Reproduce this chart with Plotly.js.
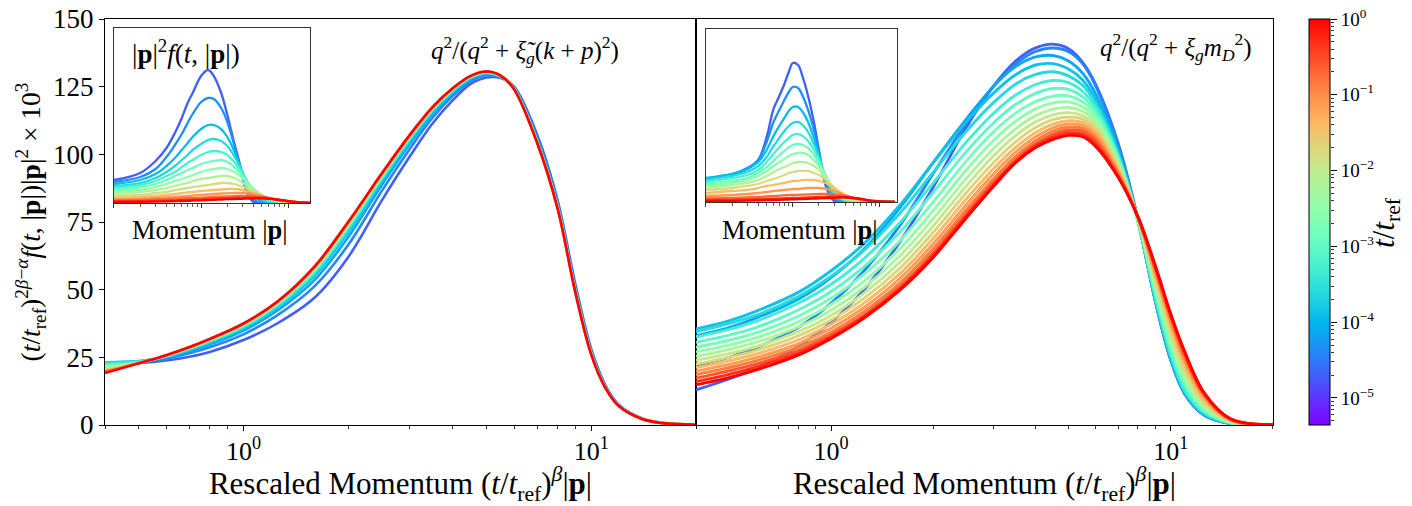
<!DOCTYPE html>
<html>
<head>
<meta charset="utf-8">
<script src="https://cdn.plot.ly/plotly-3.0.1.min.js"></script>
<style>html,body{margin:0;padding:0;background:#fff;}</style>
</head>
<body>
<div id="chart" style="width:1412px;height:506px;"></div>
<script>
// ---------------- DATA ----------------
// colour range of the colourbar (t / t_ref)
const T_MIN = 4.4e-6;
const T_MAX = 1.0;
const cbTickVals = [1e-5, 1e-4, 1e-3, 1e-2, 1e-1, 1];
const cbTickText = ['10<sup>−5</sup>','10<sup>−4</sup>','10<sup>−3</sup>','10<sup>−2</sup>','10<sup>−1</sup>','10<sup>0</sup>'];

// main-panel x ticks
const mainTickVals = [1, 10];
const mainTickText = ['10<sup>0</sup>', '10<sup>1</sup>'];
const yTickVals = [0, 25, 50, 75, 100, 125, 150];

// ---- left main panel: q^2/(q^2 + xi_g (k+p)^2) ----
const xLeft = [0.4, 0.5, 0.6, 0.7, 0.8, 1.0, 1.25, 1.6, 2.0, 2.5, 3.0, 3.5, 4.0, 4.5, 5.0, 5.5, 6.0, 7.0, 8.0, 9.0, 10, 11, 12, 14, 16, 20];
const tLeft = [2e-5, 4e-5, 7e-5, 1.5e-4, 4e-4, 1.5e-3, 6e-3, 3e-2, 0.15, 1.0];
const yL0 = [22.3, 22.8, 23.8, 25.2, 27, 31.4, 37.5, 47, 62, 83, 99, 111.5, 120, 126, 128.4, 128.2, 125, 107, 83, 52, 28, 14.5, 7.5, 2.4, 0.8, 0.1];
const yL1 = [22.8, 23.3, 24.5, 26.5, 28.7, 33.5, 40.5, 51.2, 66.5, 86.5, 101.8, 113.6, 121.6, 127, 129.2, 128.5, 124.6, 106, 82, 51, 27.3, 14.1, 7.3, 2.3, 0.75, 0.1];
const yL2 = [23.0, 23.5, 24.9, 27.3, 29.7, 34.9, 42.2, 53.5, 69.4, 88.7, 103.6, 114.9, 122.6, 127.7, 129.7, 128.7, 124.4, 105.3, 81.3, 50.3, 26.9, 13.9, 7.2, 2.3, 0.74, 0.1];
const yL3 = [23.2, 23.6, 25.2, 27.7, 30.4, 35.7, 43.2, 55.0, 71.1, 90, 104.6, 115.7, 123.2, 128.1, 129.9, 128.8, 124.3, 104.9, 80.9, 49.9, 26.6, 13.8, 7.15, 2.26, 0.73, 0.1];
const yL4 = [22.8, 23.4, 25.4, 28.1, 30.8, 36.3, 44.0, 56.2, 72.4, 91, 105.4, 116.3, 123.6, 128.4, 130.2, 128.8, 124.2, 104.6, 80.6, 49.6, 26.4, 13.7, 7.1, 2.24, 0.72, 0.1];
const yL5 = [22.0, 23.1, 25.5, 28.3, 31.2, 36.7, 44.5, 57.0, 73.3, 91.7, 106, 116.7, 123.9, 128.6, 130.3, 128.9, 124.1, 104.4, 80.4, 49.4, 26.3, 13.6, 7.07, 2.23, 0.71, 0.1];
const yL6 = [21.2, 22.9, 25.6, 28.5, 31.4, 37.0, 44.9, 57.6, 74.0, 92.2, 106.4, 117, 124.1, 128.8, 130.4, 128.9, 124.1, 104.2, 80.2, 49.2, 26.2, 13.6, 7.04, 2.22, 0.71, 0.1];
const yL7 = [20.5, 22.8, 25.7, 28.6, 31.6, 37.2, 45.2, 58.0, 74.4, 92.5, 106.6, 117.2, 124.3, 128.9, 130.5, 129, 124, 104.1, 80.1, 49.1, 26.1, 13.55, 7.02, 2.21, 0.7, 0.1];
const yL8 = [19.8, 22.8, 25.8, 28.7, 31.7, 37.4, 45.4, 58.3, 74.8, 92.8, 106.8, 117.4, 124.4, 128.9, 130.6, 129, 124, 104, 80, 49, 26, 13.5, 7, 2.2, 0.7, 0.1];
const yL9 = [19.2, 22.8, 25.8, 28.8, 31.8, 37.5, 45.5, 58.5, 75, 93, 107, 117.5, 124.5, 129, 130.6, 129, 124, 104, 80, 49, 26, 13.5, 7, 2.2, 0.7, 0.1];
const leftCurves = [yL0, yL1, yL2, yL3, yL4, yL5, yL6, yL7, yL8, yL9];

// ---- right main panel: q^2/(q^2 + xi_g m_D^2) ----
const xRight = [0.4, 0.5, 0.6, 0.8, 1.0, 1.25, 1.6, 2.0, 2.5, 3.0, 3.5, 4.0, 4.5, 5.0, 5.5, 6.0, 7.0, 8.0, 9.0, 10, 11, 12.5, 15, 20];
const tRight = [2.0e-5, 3.8e-5, 7.1e-5, 1.3e-4, 2.5e-4, 4.7e-4, 8.9e-4, 1.7e-3, 3.2e-3, 5.9e-3, 1.1e-2, 2.1e-2, 4.0e-2, 7.5e-2, 0.14, 0.27, 0.51, 1.0];
const yR0  = [13, 17, 21, 29, 38, 50, 68, 88, 110, 125, 134.5, 139.3, 140.7, 139, 134, 126, 104, 76, 46, 24, 11.5, 3.8, 0.5, 0];
const yR1  = [22, 25, 28.5, 36, 45, 57, 74, 93, 111.5, 125, 133.5, 138, 139.3, 138, 133.5, 125.5, 103.5, 76, 46, 24, 11.5, 3.8, 0.5, 0];
const yR2  = [33, 36, 39.5, 46.5, 54.5, 65, 80.5, 97, 113, 125, 132.5, 136, 136.5, 134.5, 130, 122.5, 102, 75.5, 46, 24.2, 11.7, 3.9, 0.55, 0];
const yR3  = [35.5, 38.5, 42, 49, 57, 67, 81.5, 97, 112, 122.5, 129.5, 133, 133.5, 131.5, 127.5, 120.5, 101, 75.5, 46.5, 24.8, 12, 4.1, 0.6, 0];
const yR4  = [34.5, 37.5, 40.5, 47.5, 55, 64.5, 78.5, 93.5, 108.5, 119, 126, 129.5, 130.5, 129, 125.5, 119, 100, 75.5, 47, 25.5, 12.5, 4.4, 0.65, 0];
const yR5  = [32.5, 35.3, 38.3, 45, 52, 61.5, 75, 89.5, 104.5, 115, 122, 125.8, 127.3, 126.5, 123.3, 117.5, 99.3, 75.6, 47.8, 26.5, 13.3, 4.8, 0.75, 0];
const yR6  = [30.5, 33.2, 36, 42.5, 49.3, 58.5, 71.5, 86, 101, 111.5, 118.5, 122.5, 124.3, 124, 121.3, 116, 98.6, 75.7, 48.8, 27.8, 14.3, 5.3, 0.85, 0];
const yR7  = [28.7, 31.3, 34, 40.2, 46.8, 55.7, 68.3, 82.5, 97.5, 108.2, 115.3, 119.5, 121.5, 121.6, 119.4, 114.6, 98, 75.8, 49.8, 29.2, 15.5, 5.9, 0.95, 0];
const yR8  = [27, 29.5, 32.2, 38.1, 44.5, 53.1, 65.4, 79.3, 94.2, 105, 112.3, 116.8, 119, 119.4, 117.6, 113.3, 97.4, 76, 50.8, 30.6, 16.7, 6.5, 1.05, 0];
const yR9  = [25.4, 27.9, 30.5, 36.2, 42.4, 50.8, 62.7, 76.3, 91.1, 102, 109.5, 114.3, 116.7, 117.3, 115.9, 112, 96.7, 76.2, 52, 32, 18, 7.2, 1.2, 0];
const yR10 = [23.9, 26.4, 28.9, 34.5, 40.5, 48.7, 60.3, 73.6, 88.3, 99.3, 107, 112, 114.6, 115.4, 114.3, 110.8, 96, 76.4, 53.1, 33.5, 19.3, 7.9, 1.35, 0];
const yR11 = [22.5, 25, 27.5, 32.9, 38.8, 46.8, 58.1, 71.2, 85.8, 96.8, 104.7, 109.9, 112.8, 113.8, 113, 109.6, 95.3, 76.5, 54.2, 35, 20.6, 8.7, 1.5, 0];
const yR12 = [21.2, 23.7, 26.2, 31.4, 37.2, 45, 56.1, 69, 83.5, 94.6, 102.7, 108.1, 111.2, 112.4, 111.8, 108.5, 94.5, 76.6, 55.3, 36.5, 22, 9.5, 1.65, 0.05];
const yR13 = [19.9, 22.4, 24.9, 30, 35.7, 43.4, 54.3, 67, 81.4, 92.6, 100.9, 106.5, 109.8, 111.2, 110.7, 107.3, 93.6, 76.7, 56.3, 37.8, 23.4, 10.3, 1.8, 0.05];
const yR14 = [18.6, 21.2, 23.7, 28.7, 34.3, 41.9, 52.6, 65.2, 79.5, 90.8, 99.3, 105, 108.5, 110, 109.6, 106.1, 92.8, 76.8, 57.2, 39, 24.7, 11, 1.95, 0.05];
const yR15 = [17.3, 20, 22.5, 27.5, 33.2, 40.6, 51.2, 63.6, 78, 89.4, 98, 103.8, 107.3, 108.9, 108.5, 105, 92.2, 76.9, 58, 40, 25.9, 11.6, 2.1, 0.05];
const yR16 = [16, 18.7, 21.4, 26.6, 32.5, 40, 50.5, 62.7, 77.2, 88.6, 97.4, 103.1, 106.3, 107.9, 107.4, 103.9, 91.8, 77, 58.6, 40.6, 26.5, 11.9, 2.2, 0.1];
const yR17 = [14.8, 17.5, 20.3, 25.8, 32, 39.5, 50, 62, 76.5, 88, 97, 102.5, 105.5, 107, 106.5, 103, 91.5, 77, 59, 41, 27, 12.2, 2.3, 0.1];
const rightCurves = [yR0, yR1, yR2, yR3, yR4, yR5, yR6, yR7, yR8, yR9, yR10, yR11, yR12, yR13, yR14, yR15, yR16, yR17];

// ---- insets: |p|^2 f(t,|p|) vs momentum |p| (arbitrary units) ----
const tInset = [2.0e-5, 4.6e-5, 1.1e-4, 2.4e-4, 5.6e-4, 1.3e-3, 2.9e-3, 6.8e-3, 1.6e-2, 3.6e-2, 8.3e-2, 0.19, 0.44, 1.0];
const inTickMajor = [0.1, 1, 10];
const inTickMinor = [0.2,0.3,0.4,0.5,0.6,0.7,0.8,0.9,2,3,4,5,6,7,8,9];

const pInsetL = [0.1, 0.2, 0.3, 0.4, 0.5, 0.6, 0.7, 0.8, 1.0, 1.2, 1.4, 1.7, 2.0, 2.4, 2.8, 3.3, 4.0, 5.5, 8, 12, 18];
const iL0  = [.23,.30,.42,.55,.70,.85,1.0,1.10,1.27,1.33,1.27,1.10,.88,.60,.38,.12,.01,0,0,0,0];
const iL1  = [.21,.26,.34,.46,.58,.69,.80,.89,1.01,1.05,1.04,.95,.81,.58,.36,.14,.03,0,0,0,0];
const iL2  = [.19,.23,.29,.37,.45,.53,.60,.66,.74,.78,.78,.74,.66,.52,.37,.20,.07,.01,0,0,0];
const iL3  = [.17,.20,.25,.31,.37,.43,.48,.53,.59,.63,.64,.62,.57,.47,.36,.23,.11,.02,0,0,0];
const iL4  = [.15,.18,.22,.27,.31,.36,.40,.43,.48,.51,.52,.51,.48,.41,.33,.23,.13,.04,.005,0,0];
const iL5  = [.13,.16,.19,.23,.27,.30,.33,.35,.39,.41,.42,.43,.41,.36,.30,.22,.14,.05,.01,0,0];
const iL6  = [.11,.13,.16,.19,.22,.24,.26,.28,.31,.33,.34,.35,.34,.31,.27,.21,.14,.06,.015,0,0];
const iL7  = [.09,.11,.13,.15,.17,.19,.20,.22,.24,.25,.26,.27,.27,.25,.22,.18,.13,.06,.02,.003,0];
const iL8  = [.07,.08,.10,.11,.13,.14,.15,.16,.17,.18,.19,.20,.20,.19,.17,.15,.11,.06,.02,.004,0];
const iL9  = [.05,.06,.07,.08,.09,.10,.105,.11,.12,.125,.13,.135,.14,.14,.135,.12,.10,.06,.025,.006,0];
const iL10 = [.035,.04,.05,.055,.06,.065,.07,.075,.08,.085,.09,.095,.097,.1,.1,.1,.09,.06,.03,.008,0];
const iL11 = [.025,.03,.035,.038,.042,.045,.048,.05,.054,.057,.06,.063,.066,.068,.07,.07,.07,.055,.03,.01,.001];
const iL12 = [.015,.018,.021,.024,.027,.03,.032,.034,.037,.04,.042,.045,.048,.05,.052,.054,.055,.05,.03,.01,.001];
const iL13 = [.01,.012,.014,.016,.018,.02,.022,.024,.027,.03,.032,.035,.038,.04,.042,.044,.045,.045,.03,.012,.002];
const insetLeftCurves = [iL0,iL1,iL2,iL3,iL4,iL5,iL6,iL7,iL8,iL9,iL10,iL11,iL12,iL13];

const pInsetR = [0.1, 0.2, 0.3, 0.4, 0.5, 0.6, 0.7, 0.8, 0.9, 1.0, 1.15, 1.3, 1.5, 1.75, 2.0, 2.4, 3.0, 4.0, 5.5, 8, 15];
const iR0  = [.22,.27,.33,.42,.65,.93,1.06,1.18,1.30,1.39,1.37,1.25,1.06,.80,.52,.16,.01,0,0,0,0];
const iR1  = [.23,.28,.34,.42,.60,.80,.92,1.02,1.10,1.15,1.14,1.06,.92,.72,.50,.20,.03,0,0,0,0];
const iR2  = [.24,.28,.33,.40,.52,.66,.76,.84,.91,.95,.95,.90,.80,.64,.47,.22,.05,.005,0,0,0];
const iR3  = [.22,.26,.30,.36,.45,.56,.64,.71,.76,.79,.80,.77,.70,.58,.45,.25,.08,.01,0,0,0];
const iR4  = [.20,.24,.27,.32,.40,.48,.55,.60,.64,.67,.68,.66,.61,.52,.42,.26,.10,.02,0,0,0];
const iR5  = [.18,.21,.24,.29,.35,.41,.47,.51,.55,.57,.58,.57,.54,.47,.39,.26,.12,.03,.005,0,0];
const iR6  = [.16,.19,.22,.26,.31,.36,.40,.43,.46,.48,.49,.49,.47,.42,.36,.26,.13,.04,.008,0,0];
const iR7  = [.14,.17,.19,.22,.26,.30,.33,.35,.37,.39,.40,.40,.39,.36,.32,.24,.14,.05,.012,0,0];
const iR8  = [.12,.14,.16,.18,.21,.23,.25,.27,.29,.30,.31,.31,.31,.29,.27,.22,.14,.06,.018,.002,0];
const iR9  = [.09,.11,.12,.14,.16,.17,.18,.19,.20,.21,.21,.22,.22,.22,.21,.19,.14,.07,.025,.004,0];
const iR10 = [.06,.07,.08,.09,.10,.11,.115,.12,.125,.13,.13,.135,.14,.14,.14,.13,.11,.07,.03,.006,0];
const iR11 = [.035,.04,.045,.05,.055,.06,.063,.066,.069,.07,.072,.074,.076,.078,.08,.08,.075,.06,.035,.01,0];
const iR12 = [.02,.022,.025,.028,.03,.033,.035,.037,.039,.04,.042,.044,.046,.048,.05,.052,.054,.05,.035,.012,.001];
const iR13 = [.01,.012,.014,.016,.018,.02,.022,.024,.025,.026,.028,.03,.032,.034,.036,.038,.042,.045,.035,.013,.001];
const insetRightCurves = [iR0,iR1,iR2,iR3,iR4,iR5,iR6,iR7,iR8,iR9,iR10,iR11,iR12,iR13];

// ---------------- STYLE / BUILD ----------------
const LOG_MIN = Math.log10(T_MIN), LOG_MAX = Math.log10(T_MAX);
function rainbow(c) {
  c = Math.max(0, Math.min(1, c));
  const r = Math.min(1, Math.abs(2 * c - 0.5));
  const g = Math.sin(Math.PI * c);
  const b = Math.cos(Math.PI * c / 2);
  return 'rgb(' + Math.round(255 * r) + ',' + Math.round(255 * g) + ',' + Math.round(255 * Math.max(0, b)) + ')';
}
function colorOf(t) { return rainbow((Math.log10(t) - LOG_MIN) / (LOG_MAX - LOG_MIN)); }
const colorscale = [];
for (let i = 0; i <= 32; i++) colorscale.push([i / 32, rainbow(i / 32)]);

const traces = [];
function addSet(xs, curves, times, xa, ya, w) {
  curves.forEach((ys, i) => {
    traces.push({
      type: 'scatter', mode: 'lines', x: xs, y: ys, xaxis: xa, yaxis: ya,
      line: { color: colorOf(times[i]), width: w, shape: 'spline', smoothing: 1.0 },
      showlegend: false, hoverinfo: 'skip'
    });
  });
}
addSet(xLeft, leftCurves, tLeft, 'x', 'y', 2.6);
addSet(xRight, rightCurves, tRight, 'x2', 'y2', 2.9);
addSet(pInsetL, insetLeftCurves, tInset, 'x3', 'y3', 2.3);
addSet(pInsetR, insetRightCurves, tInset, 'x4', 'y4', 2.3);

// colourbar holder (markers outside the visible range)
traces.push({
  type: 'scatter', mode: 'markers', x: [1, 1], y: [-50, -50], xaxis: 'x', yaxis: 'y',
  marker: {
    color: [LOG_MIN, LOG_MAX], cmin: LOG_MIN, cmax: LOG_MAX, colorscale: colorscale,
    opacity: 0, size: 1, showscale: true,
    colorbar: {
      x: 0.95028, xanchor: 'left', xref: 'paper', y: 0, yanchor: 'bottom', yref: 'paper',
      len: 1, lenmode: 'fraction', thickness: 21, thicknessmode: 'pixels',
      xpad: 0, ypad: 0, outlinewidth: 1, outlinecolor: '#000',
      showticklabels: false, ticks: ''
    }
  },
  showlegend: false, hoverinfo: 'skip'
});
// tick axis for the colourbar
traces.push({ type: 'scatter', mode: 'lines', x: [null], y: [null], xaxis: 'x5', yaxis: 'y5', showlegend: false, hoverinfo: 'skip' });

const FONT = 'Liberation Serif, DejaVu Serif, serif';
const minorMain = [0.4,0.5,0.6,0.7,0.8,0.9,2,3,4,5,6,7,8,9,20];
function mainX(domain, anchor) {
  return {
    type: 'log', range: [Math.log10(0.4), Math.log10(20)], domain: domain, anchor: anchor,
    showline: true, mirror: true, linecolor: '#000', linewidth: 1.1,
    ticks: 'outside', ticklen: 5, tickwidth: 1, tickcolor: '#000',
    tickmode: 'array', tickvals: mainTickVals, ticktext: mainTickText,
    tickfont: { size: 26, family: FONT, color: '#000' },
    ticklabelstandoff: -2,
    minor: { ticks: 'outside', ticklen: 3, tickwidth: 0.8, tickcolor: '#000', tickmode: 'array', tickvals: minorMain, showgrid: false },
    showgrid: false, zeroline: false,
    title: { text: 'Rescaled Momentum (<i>t</i>/<i>t</i><sub>ref</sub>)<sup><i>β</i></sup>|<b>p</b>|', font: { size: 31, family: FONT, color: '#000' }, standoff: 0 }
  };
}
function insetX(domain, anchor, rng) {
  return {
    type: 'log', range: rng, domain: domain, anchor: anchor,
    showline: true, mirror: true, linecolor: '#333', linewidth: 1.1,
    ticks: 'outside', ticklen: 4, tickwidth: 1, tickcolor: '#333',
    tickmode: 'array', tickvals: inTickMajor, showticklabels: false,
    minor: { ticks: 'outside', ticklen: 2.5, tickwidth: 0.8, tickcolor: '#333', tickmode: 'array', tickvals: inTickMinor, showgrid: false },
    showgrid: false, zeroline: false
  };
}
function insetY(domain, anchor, top) {
  return {
    range: [0, top], domain: domain, anchor: anchor,
    showline: true, mirror: true, linecolor: '#333', linewidth: 1.1,
    ticks: '', showticklabels: false, showgrid: false, zeroline: false
  };
}

const layout = {
  width: 1412, height: 506,
  margin: { l: 105, r: 40, t: 19, b: 81, pad: 0 },
  paper_bgcolor: '#fff', plot_bgcolor: 'rgba(0,0,0,0)',
  font: { family: FONT, color: '#000', size: 22 },
  showlegend: false,
  xaxis: mainX([0, 0.46646], 'y'),
  yaxis: {
    range: [0, 150], domain: [0, 1], anchor: 'x',
    showline: true, mirror: true, linecolor: '#000', linewidth: 1.1,
    ticks: 'outside', ticklen: 5, tickwidth: 1, tickcolor: '#000',
    tickmode: 'array', tickvals: yTickVals,
    tickfont: { size: 27, family: FONT, color: '#000' },
    showgrid: false, zeroline: false,
    title: { text: '(<i>t</i>/<i>t</i><sub>ref</sub>)<sup>2<i>β</i>−<i>α</i></sup><i>f</i>(<i>t</i>, |<b>p</b>|)|<b>p</b>|<sup>2</sup> × 10<sup>3</sup>', font: { size: 27.5, family: FONT, color: '#000' }, standoff: 4 }
  },
  xaxis2: mainX([0.46646, 0.92186], 'y2'),
  yaxis2: {
    range: [0, 150], domain: [0, 1], anchor: 'x2',
    showline: true, mirror: true, linecolor: '#000', linewidth: 1.1,
    ticks: '', showticklabels: false, showgrid: false, zeroline: false
  },
  xaxis3: insetX([0.0071, 0.1618], 'y3', [-1, 1.25]),
  yaxis3: insetY([0.5468, 0.9778], 'x3', 1.75),
  xaxis4: insetX([0.4743, 0.6251], 'y4', [-1, 1.2]),
  yaxis4: insetY([0.5493, 0.9754], 'x4', 1.73),
  xaxis5: { domain: [0.95028, 0.96685], anchor: 'y5', visible: false, range: [0, 1] },
  yaxis5: {
    type: 'log', range: [LOG_MIN, LOG_MAX], domain: [0, 1], anchor: 'x5', side: 'right',
    showline: false, showgrid: false, zeroline: false,
    ticks: 'outside', ticklen: 6, tickwidth: 1, tickcolor: '#000',
    tickmode: 'array', tickvals: cbTickVals, ticktext: cbTickText,
    tickfont: { size: 19, family: FONT, color: '#000' },
    minor: { ticks: 'outside', ticklen: 3.5, tickwidth: 0.8, tickcolor: '#000', tickmode: 'array',
      tickvals: [5e-6,6e-6,7e-6,8e-6,9e-6,2e-5,3e-5,4e-5,5e-5,6e-5,7e-5,8e-5,9e-5,2e-4,3e-4,4e-4,5e-4,6e-4,7e-4,8e-4,9e-4,2e-3,3e-3,4e-3,5e-3,6e-3,7e-3,8e-3,9e-3,2e-2,3e-2,4e-2,5e-2,6e-2,7e-2,8e-2,9e-2,0.2,0.3,0.4,0.5,0.6,0.7,0.8,0.9], showgrid: false }
  },
  annotations: [
    { xref: 'paper', yref: 'paper', x: 0.3315, y: 0.9236, xanchor: 'center', yanchor: 'middle', showarrow: false,
      text: '<i>q</i><sup>2</sup>/(<i>q</i><sup>2</sup> + <i>\u03BE\u0303</i><sub><i>g</i></sub>(<i>k</i> + <i>p</i>)<sup>2</sup>)', font: { size: 25, family: FONT, color: '#000' } },
    { xref: 'paper', yref: 'paper', x: 0.8453, y: 0.931, xanchor: 'center', yanchor: 'middle', showarrow: false,
      text: '<i>q</i><sup>2</sup>/(<i>q</i><sup>2</sup> + <i>\u03BE</i><sub><i>g</i></sub><i>m</i><sub><i>D</i></sub><sup>2</sup>)', font: { size: 25, family: FONT, color: '#000' } },
    { xref: 'paper', yref: 'paper', x: 0.0639, y: 0.9187, xanchor: 'center', yanchor: 'middle', showarrow: false,
      text: '|<b>p</b>|<sup>2</sup><i>f</i>(<i>t</i>, |<b>p</b>|)', font: { size: 27, family: FONT, color: '#000' } },
    { xref: 'paper', yref: 'paper', x: 0.0829, y: 0.4803, xanchor: 'center', yanchor: 'middle', showarrow: false,
      text: 'Momentum |<b>p</b>|', font: { size: 26.5, family: FONT, color: '#000' } },
    { xref: 'paper', yref: 'paper', x: 0.5485, y: 0.4803, xanchor: 'center', yanchor: 'middle', showarrow: false,
      text: 'Momentum |<b>p</b>|', font: { size: 26.5, family: FONT, color: '#000' } },
    { xref: 'paper', yref: 'paper', x: 1.011, y: 0.5, xanchor: 'center', yanchor: 'middle', showarrow: false, textangle: -90,
      text: '<i>t</i>/<i>t</i><sub>ref</sub>', font: { size: 31, family: FONT, color: '#000' } }
  ]
};

Plotly.newPlot('chart', traces, layout, { displayModeBar: false, staticPlot: true });
</script>
</body>
</html>
